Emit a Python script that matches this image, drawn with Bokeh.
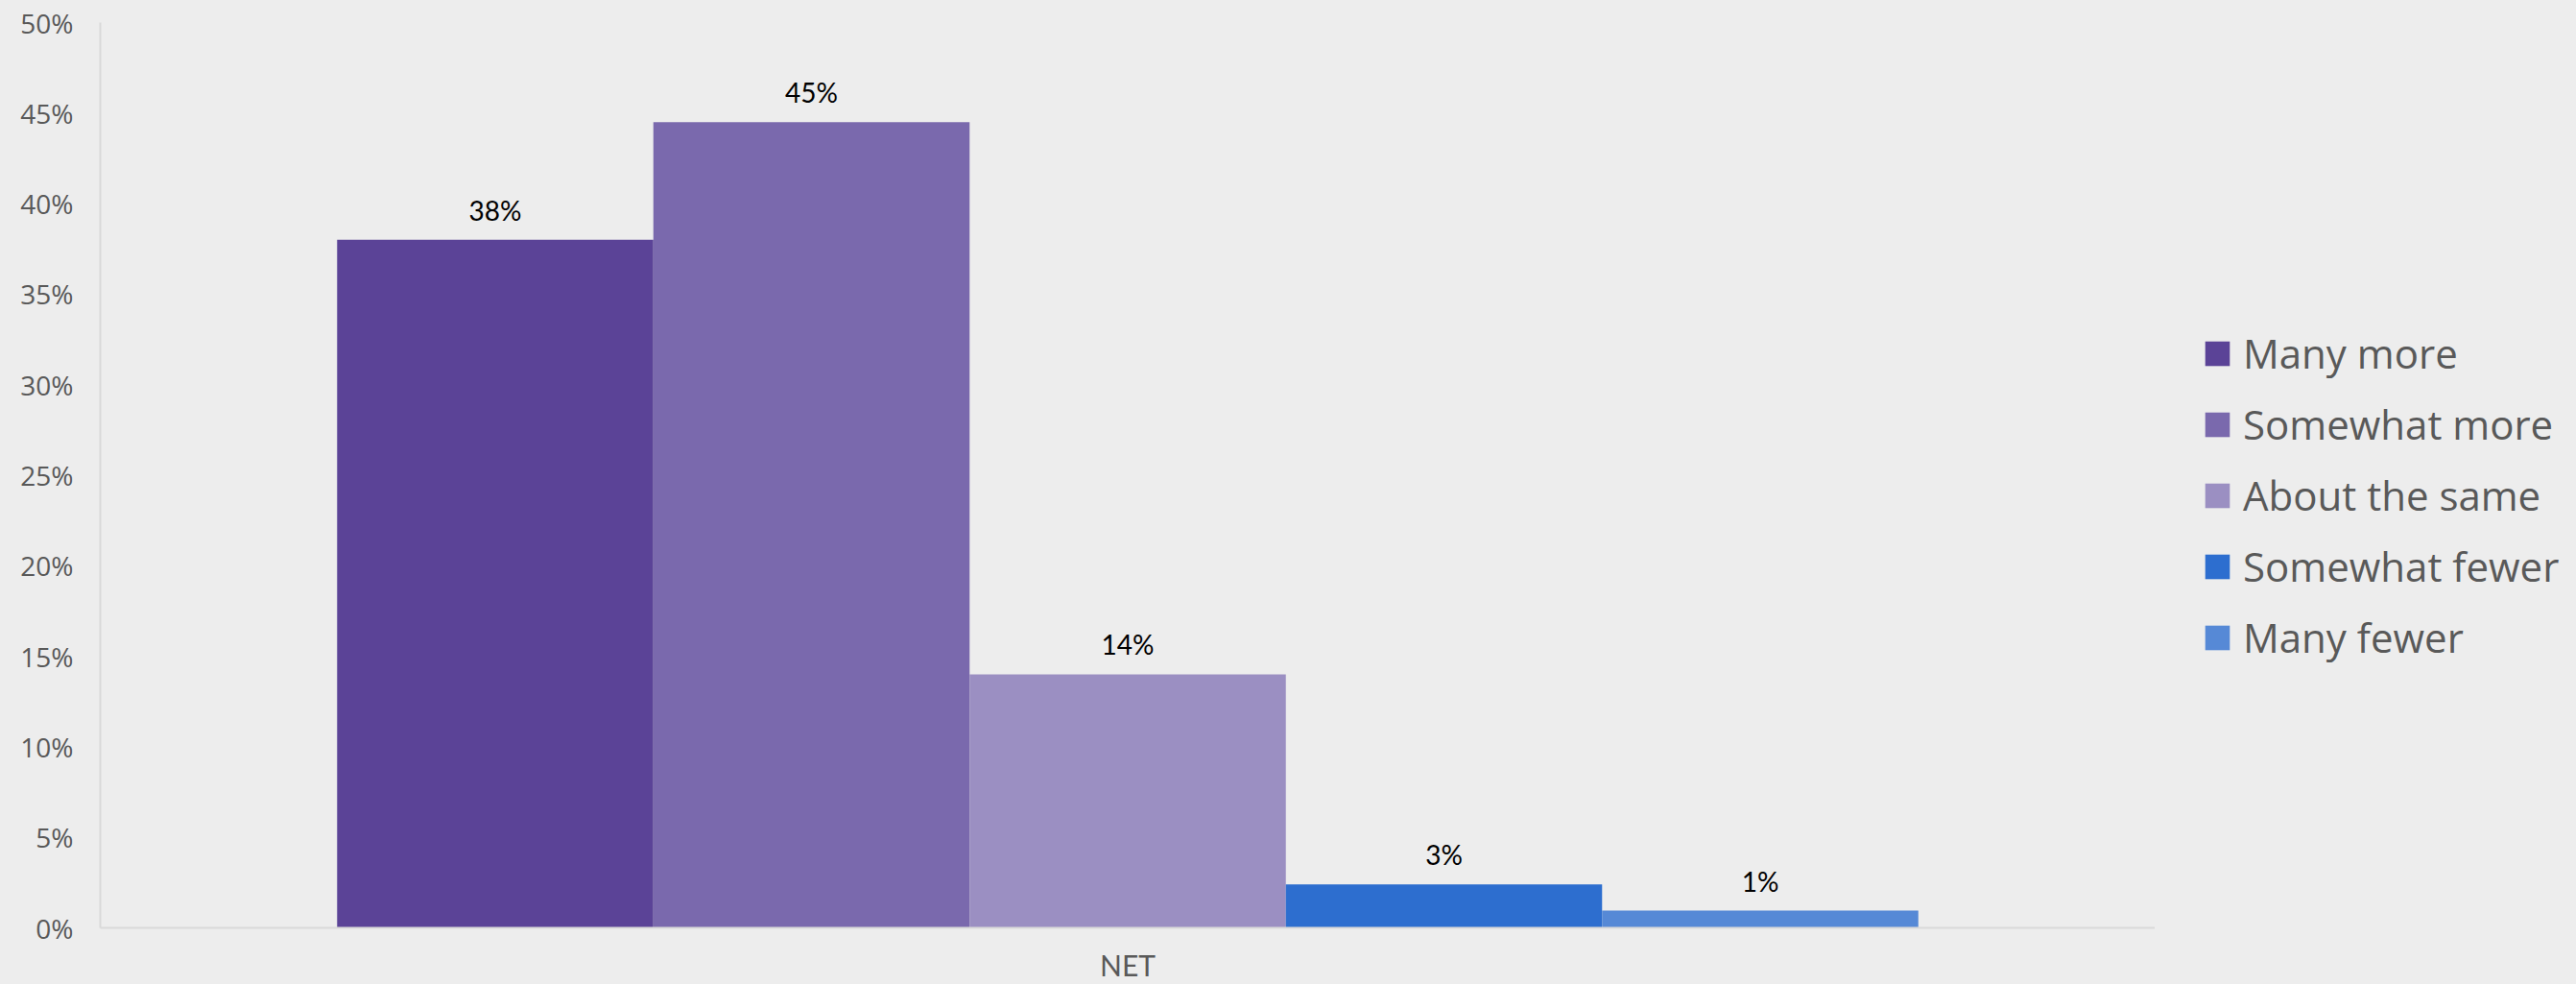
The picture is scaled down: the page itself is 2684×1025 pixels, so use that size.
from bokeh.plotting import figure
from bokeh.layouts import row
from bokeh.models import (ColumnDataSource, Legend, LegendItem, FactorRange, Range1d,
                          NumeralTickFormatter, FixedTicker)
from bokeh.transform import dodge
from bokeh.core.properties import value
from bokeh.embed import file_html
from bokeh.resources import INLINE

categories = ["NET"]
series = ["Many more", "Somewhat more", "About the same", "Somewhat fewer", "Many fewer"]
values = [0.38, 0.445, 0.14, 0.024, 0.0095]
labels = ["38%", "45%", "14%", "3%", "1%"]
colors = ["#5B4397", "#7A69AD", "#9B8FC2", "#2D6ECF", "#5689D6"]
y_ticks = [0.0, 0.05, 0.10, 0.15, 0.20, 0.25, 0.30, 0.35, 0.40, 0.45, 0.50]

BG = "#EDEDED"
AXIS_LINE = "#D9D9D9"
TEXT_GRAY = "#595959"
bar_w = 0.1539

p = figure(width=2245, height=1025,
           x_range=FactorRange(factors=categories, range_padding=0),
           y_range=Range1d(0, 0.5),
           output_backend="svg", toolbar_location=None,
           min_border_left=104, min_border_right=0,
           min_border_top=23, min_border_bottom=56)

p.background_fill_color = BG
p.border_fill_color = BG
p.outline_line_color = None
p.xgrid.visible = False
p.ygrid.visible = False

n = len(series)
for i, (s, v, lab, c) in enumerate(zip(series, values, labels, colors)):
    src = ColumnDataSource(dict(cat=categories, val=[v], lab=[lab]))
    off = (i - (n - 1) / 2) * bar_w
    p.vbar(x=dodge("cat", off, range=p.x_range), top="val", width=bar_w,
           source=src, fill_color=c, line_color=None)
    p.text(x=dodge("cat", off, range=p.x_range), y="val", text="lab", source=src,
           text_align="center", text_baseline="bottom", y_offset=-14,
           text_font=value("Lato"), text_font_size="28px",
           text_color="#000000")

yax = p.yaxis[0]
yax.ticker = FixedTicker(ticks=y_ticks)
yax.formatter = NumeralTickFormatter(format="0%")
yax.major_tick_line_color = None
yax.minor_tick_line_color = None
yax.major_tick_out = 0
yax.major_tick_in = 0
yax.minor_tick_out = 0
yax.axis_line_color = AXIS_LINE
yax.axis_line_width = 2
yax.major_label_text_font = "Open Sans"
yax.major_label_text_font_size = "28px"
yax.major_label_text_color = TEXT_GRAY
yax.major_label_standoff = 28

xax = p.xaxis[0]
xax.major_tick_line_color = None
xax.minor_tick_line_color = None
xax.major_tick_out = 0
xax.major_tick_in = 0
xax.axis_line_color = AXIS_LINE
xax.axis_line_width = 2
xax.major_label_text_font = "Lato"
xax.major_label_text_font_size = "30px"
xax.major_label_text_color = TEXT_GRAY
xax.major_label_standoff = 20

# Legend panel (separate figure to the right of the plot area)
lp = figure(width=439, height=1025, x_range=Range1d(0, 1), y_range=Range1d(0, 1),
            output_backend="svg", toolbar_location=None,
            min_border_left=0, min_border_right=0, min_border_top=0, min_border_bottom=0)
lp.background_fill_color = BG
lp.border_fill_color = BG
lp.outline_line_color = None
lp.axis.visible = False
lp.grid.visible = False

items = []
for s, c in zip(series, colors):
    # swatch-only renderers: placed outside the visible range, used only for legend glyphs
    r = lp.vbar(x=[5.0], top=[1.0], width=0.1, fill_color=c, line_color=None)
    items.append(LegendItem(label=s, renderers=[r]))

legend = Legend(items=items, location=(49, 274),
                label_text_font="Open Sans", label_text_font_size="42px",
                label_text_color=TEXT_GRAY,
                glyph_width=32, glyph_height=32, label_standoff=11,
                label_height=42, spacing=17, padding=0, margin=0,
                border_line_color=None, background_fill_alpha=0)
lp.add_layout(legend)

layout = row(p, lp)
layout.styles = {"background-color": BG}
open("out.html", "w").write(file_html(layout, INLINE))
